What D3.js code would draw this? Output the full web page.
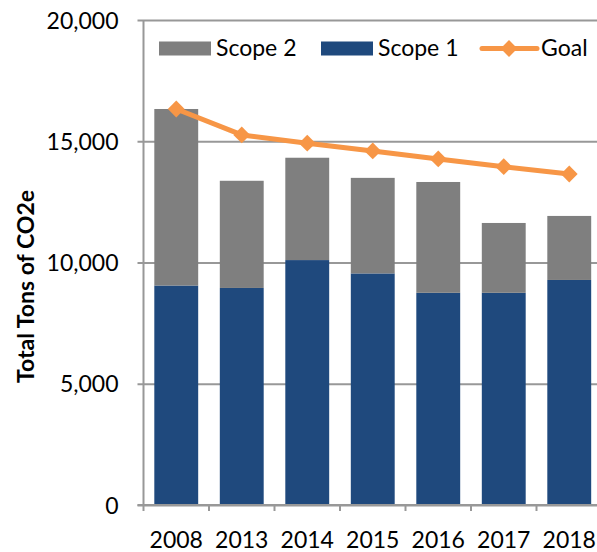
<!DOCTYPE html>
<html>
<head>
<meta charset="utf-8">
<script src="https://cdn.jsdelivr.net/npm/d3@7"></script>
<style>
  body { margin: 0; background: #fff; }
  text { font-family: Lato, "Open Sans", sans-serif; fill: #000; }
</style>
</head>
<body>
<div id="chart"></div>
<script>
const years = ["2008", "2013", "2014", "2015", "2016", "2017", "2018"];
const scope1 = [9050, 8950, 10100, 9550, 8750, 8750, 9280];
const scope2 = [7280, 4420, 4220, 3940, 4570, 2880, 2640];
const goal = [16330, 15260, 14920, 14600, 14270, 13950, 13650];
const yTicks = [0, 5000, 10000, 15000, 20000];

const width = 597;
const height = 552;
const margin = { top: 20, right: -5, bottom: 47, left: 143.5 };

const colors = { scope1: "#1F497D", scope2: "#7F7F7F", goal: "#F79646", grid: "#989898" };

const svg = d3
  .select("#chart")
  .append("svg")
  .attr("width", width)
  .attr("height", height);

const x = d3
  .scaleBand()
  .domain(years)
  .range([margin.left, width - margin.right])
  .paddingInner(0.33)
  .paddingOuter(0.165);

const y = d3
  .scaleLinear()
  .domain([0, 20000])
  .range([height - margin.bottom, margin.top]);

// gridlines + y axis
const yAxis = svg
  .append("g")
  .attr("transform", `translate(${margin.left},0)`)
  .call(
    d3.axisLeft(y)
      .tickValues(yTicks)
      .tickFormat(d3.format(","))
      .tickSize(-(width - margin.left + 10))
      .tickPadding(0)
  );
yAxis.select(".domain").remove();
yAxis.selectAll(".tick line")
  .attr("x1", -6)
  .attr("stroke", colors.grid)
  .attr("stroke-width", 2);
yAxis.selectAll(".tick text")
  .attr("x", -25)
  .attr("dy", "0.35em")
  .style("font-size", "23px")
  .style("font-family", "Lato, sans-serif")
  .attr("fill", "#000");

// bars
const stacked = years.map((yr, i) => ({ year: yr, s1: scope1[i], s2: scope2[i] }));

svg.append("g")
  .selectAll("rect.s1")
  .data(stacked)
  .join("rect")
  .attr("class", "s1")
  .attr("x", (d) => x(d.year))
  .attr("width", x.bandwidth())
  .attr("y", (d) => y(d.s1))
  .attr("height", (d) => y(0) - y(d.s1))
  .attr("fill", colors.scope1);

svg.append("g")
  .selectAll("rect.s2")
  .data(stacked)
  .join("rect")
  .attr("class", "s2")
  .attr("x", (d) => x(d.year))
  .attr("width", x.bandwidth())
  .attr("y", (d) => y(d.s1 + d.s2))
  .attr("height", (d) => y(d.s1) - y(d.s1 + d.s2))
  .attr("fill", colors.scope2);

// y axis line
svg.append("line")
  .attr("x1", margin.left).attr("x2", margin.left)
  .attr("y1", y(20000)).attr("y2", y(0))
  .attr("stroke", colors.grid)
  .attr("stroke-width", 2);

// x axis
const xAxisG = svg.append("g");
xAxisG.append("line")
  .attr("x1", margin.left - 6).attr("x2", width)
  .attr("y1", y(0)).attr("y2", y(0))
  .attr("stroke", colors.grid)
  .attr("stroke-width", 2);
// ticks sit at category boundaries
const gap = (x.step() - x.bandwidth()) / 2;
xAxisG.selectAll("line.tick")
  .data(years)
  .join("line")
  .attr("class", "tick")
  .attr("x1", (d) => x(d) - gap)
  .attr("x2", (d) => x(d) - gap)
  .attr("y1", y(0))
  .attr("y2", y(0) + 6)
  .attr("stroke", colors.grid)
  .attr("stroke-width", 2);
xAxisG.selectAll("text")
  .data(years)
  .join("text")
  .attr("x", (d) => x(d) + x.bandwidth() / 2)
  .attr("y", 548)
  .attr("text-anchor", "middle")
  .style("font-size", "23px")
  .text((d) => d);

// goal line
const line = d3.line()
  .x((d, i) => x(years[i]) + x.bandwidth() / 2)
  .y((d) => y(d));

svg.append("path")
  .datum(goal)
  .attr("d", line)
  .attr("fill", "none")
  .attr("stroke", colors.goal)
  .attr("stroke-width", 5)
  .attr("stroke-linejoin", "round");

const diamond = d3.symbol().type(d3.symbolDiamond2).size(180);
svg.append("g")
  .selectAll("path")
  .data(goal)
  .join("path")
  .attr("transform", (d, i) => `translate(${x(years[i]) + x.bandwidth() / 2},${y(d)})`)
  .attr("d", diamond)
  .attr("fill", colors.goal);

// y title
svg.append("text")
  .attr("transform", `translate(34,286.5) rotate(-90)`)
  .attr("text-anchor", "middle")
  .style("font-size", "23px")
  .style("font-weight", "bold")
  .text("Total Tons of CO2e");

// legend
const legend = svg.append("g");
legend.append("rect")
  .attr("x", 159).attr("y", 41.5).attr("width", 52).attr("height", 14)
  .attr("fill", colors.scope2);
legend.append("text")
  .attr("x", 216).attr("y", 56).style("font-size", "23px").text("Scope 2");
legend.append("rect")
  .attr("x", 321).attr("y", 41.5).attr("width", 52).attr("height", 14)
  .attr("fill", colors.scope1);
legend.append("text")
  .attr("x", 378).attr("y", 56).style("font-size", "23px").text("Scope 1");
legend.append("line")
  .attr("x1", 482).attr("x2", 537).attr("y1", 48.5).attr("y2", 48.5)
  .attr("stroke", colors.goal).attr("stroke-width", 5).attr("stroke-linecap", "round");
legend.append("path")
  .attr("transform", "translate(509,48.5)")
  .attr("d", diamond)
  .attr("fill", colors.goal);
legend.append("text")
  .attr("x", 541).attr("y", 56).style("font-size", "23px").text("Goal");
</script>
</body>
</html>
